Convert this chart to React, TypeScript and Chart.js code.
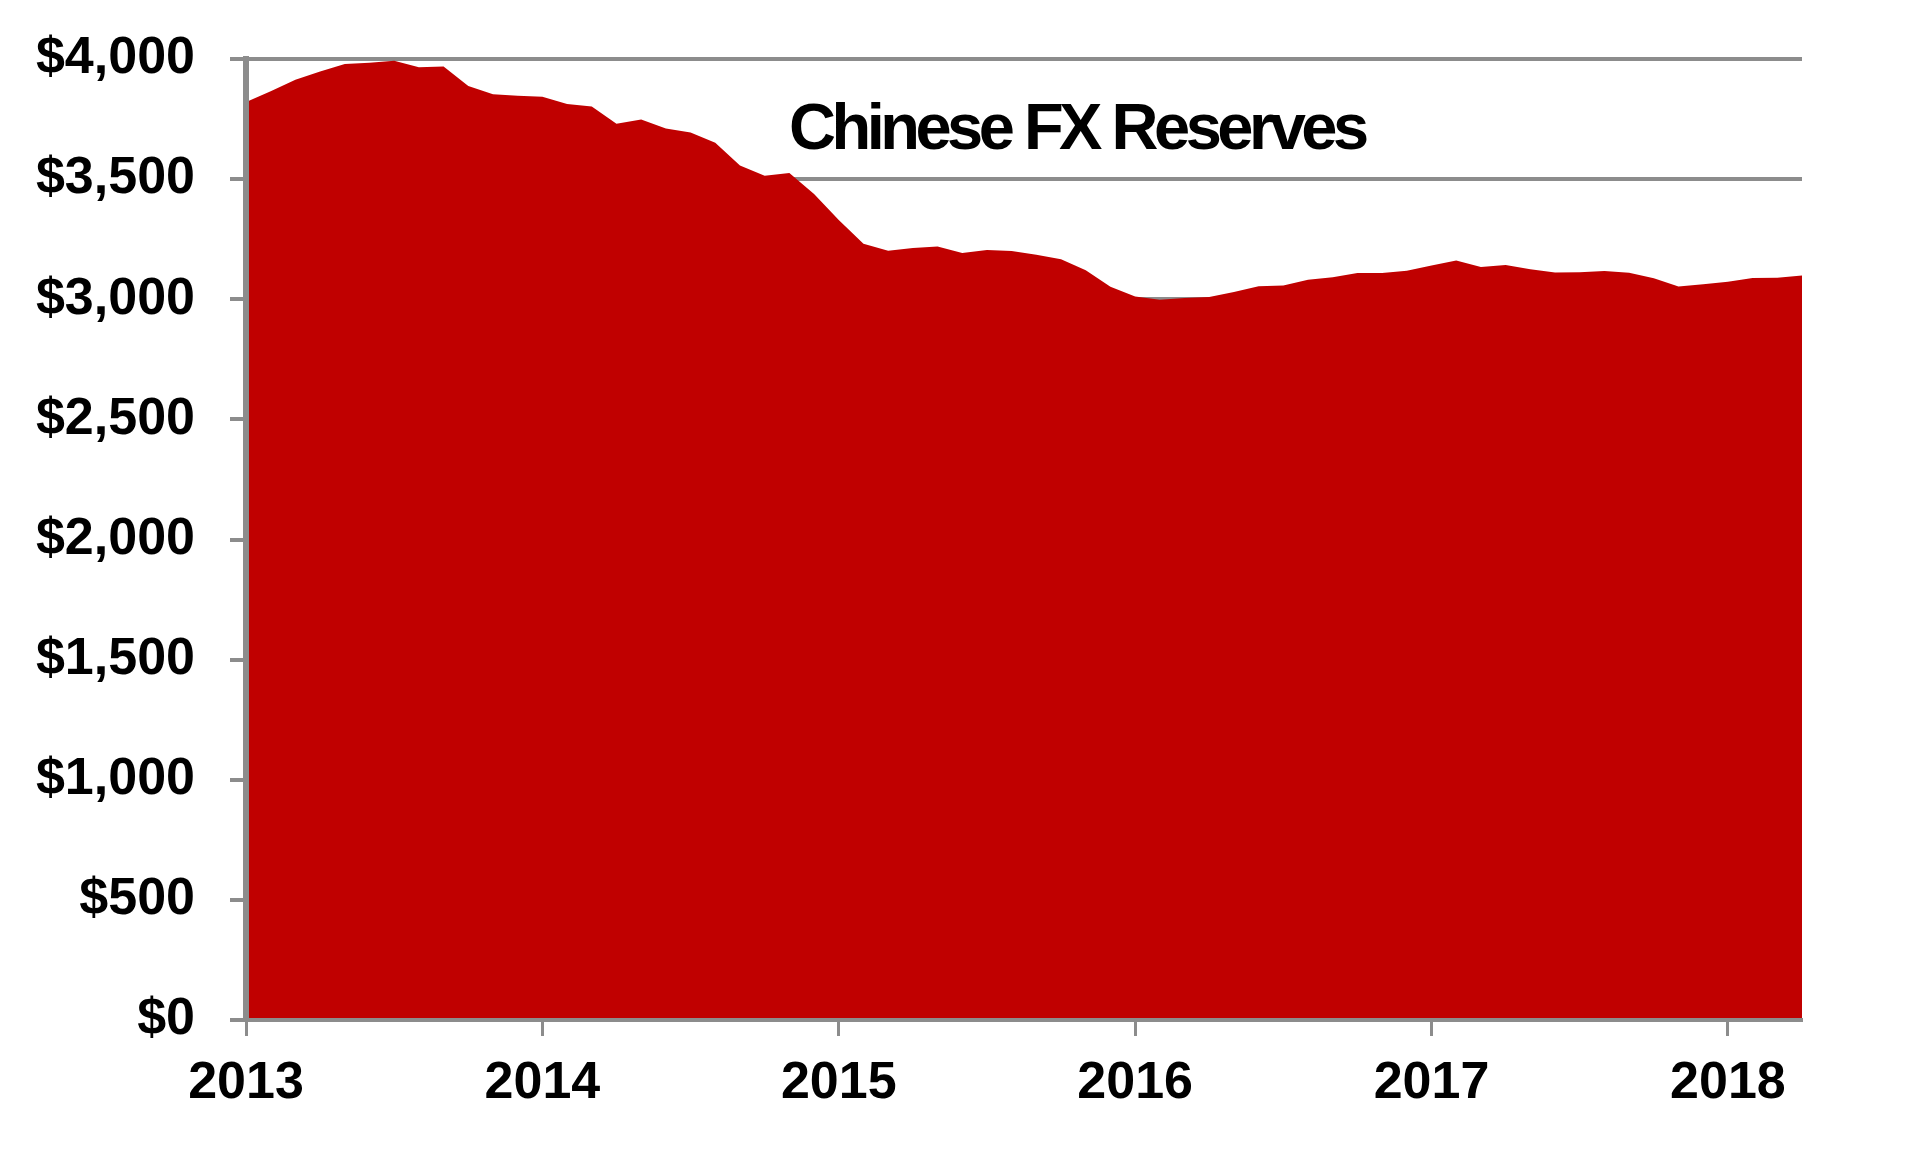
import React, { useEffect, useRef } from 'react';
import Chart from 'chart.js/auto';

// Chinese FX reserves, US$ bn, monthly; one point per month, the x value is the month offset
const yearLabels = ['2013', '2014', '2015', '2016', '2017', '2018'];
const reserves = [
  3821, 3866, 3914, 3948, 3979, 3984, 3993, 3966, 3969, 3888, 3853, 3847,
  3843, 3813, 3802, 3730, 3748, 3711, 3694, 3651, 3557, 3514, 3526, 3438,
  3330, 3231, 3202, 3213, 3220, 3192, 3205, 3201, 3185, 3166, 3121, 3052,
  3011, 2998, 3005, 3009, 3030, 3054, 3057, 3081, 3092, 3109, 3109, 3119,
  3140, 3161, 3134, 3143, 3125, 3111, 3112, 3118, 3110, 3087, 3053, 3062,
  3073, 3088, 3090, 3099,
];
const yTicks = [0, 500, 1000, 1500, 2000, 2500, 3000, 3500, 4000];
const chartTitle = 'Chinese FX Reserves';

const FONT = "'Liberation Sans', Arial, sans-serif";
const GRAY = '#8c8c8c';
const RED = '#c00000';

// title sits inside the plot, above the filled area
const titlePlugin = {
  id: 'innerTitle',
  afterDraw(chart: Chart) {
    const { ctx } = chart;
    ctx.save();
    ctx.font = `bold 65px ${FONT}`;
    (ctx as any).letterSpacing = '-4.5px';
    ctx.fillStyle = '#000';
    ctx.textAlign = 'left';
    ctx.textBaseline = 'alphabetic';
    ctx.fillText(chartTitle, 789, 149);
    ctx.restore();
  },
};

export default function App() {
  const canvasRef = useRef<HTMLCanvasElement>(null);
  const chartRef = useRef<Chart | null>(null);

  useEffect(() => {
    document.body.style.margin = '0';
    if (!canvasRef.current) return;
    if (chartRef.current) chartRef.current.destroy();

    chartRef.current = new Chart(canvasRef.current, {
      type: 'line',
      data: {
        datasets: [
          {
            label: chartTitle,
            data: reserves.map((v, i) => ({ x: i, y: v })),
            backgroundColor: RED,
            borderWidth: 0,
            pointRadius: 0,
            fill: 'origin',
            tension: 0,
            clip: { left: -3, right: 0, top: 10, bottom: -2 },
          },
        ],
      },
      options: {
        responsive: true,
        maintainAspectRatio: false,
        animation: false,
        layout: { padding: { top: 59, right: 118, left: 0, bottom: 0 } },
        plugins: {
          legend: { display: false },
          tooltip: { enabled: false },
          title: { display: false },
        },
        scales: {
          x: {
            type: 'linear',
            min: 0,
            max: reserves.length - 1,
            z: 1,
            afterFit: (scale) => {
              scale.height = 131;
            },
            grid: {
              drawOnChartArea: false,
              drawTicks: true,
              tickLength: 16,
              tickColor: GRAY,
              tickWidth: 3,
            },
            border: { color: GRAY, width: 4 },
            ticks: {
              stepSize: 12,
              includeBounds: false,
              autoSkip: false,
              maxRotation: 0,
              padding: 16,
              color: '#000',
              font: { family: FONT, size: 52, weight: 'bold' },
              callback: (v) => yearLabels[Number(v) / 12] ?? '',
            },
          },
          y: {
            min: yTicks[0],
            max: yTicks[yTicks.length - 1],
            afterFit: (scale) => {
              scale.width = 246;
              // the label padding would otherwise push the plot top down
              scale.paddingTop = 0;
              scale.paddingBottom = 0;
            },
            grid: {
              color: GRAY,
              lineWidth: 4,
              drawTicks: true,
              tickLength: 16,
              tickColor: GRAY,
              tickWidth: 4,
            },
            border: { color: GRAY, width: 6 },
            ticks: {
              stepSize: 500,
              padding: 35,
              color: '#000',
              font: { family: FONT, size: 52, weight: 'bold' },
              callback: (v) => '$' + Number(v).toLocaleString('en-US'),
            },
          },
        },
      },
      plugins: [titlePlugin],
    });

    return () => {
      if (chartRef.current) {
        chartRef.current.destroy();
        chartRef.current = null;
      }
    };
  }, []);

  return (
    <div style={{ width: 1920, height: 1151, position: 'relative', background: '#fff' }}>
      <canvas ref={canvasRef}></canvas>
    </div>
  );
}
